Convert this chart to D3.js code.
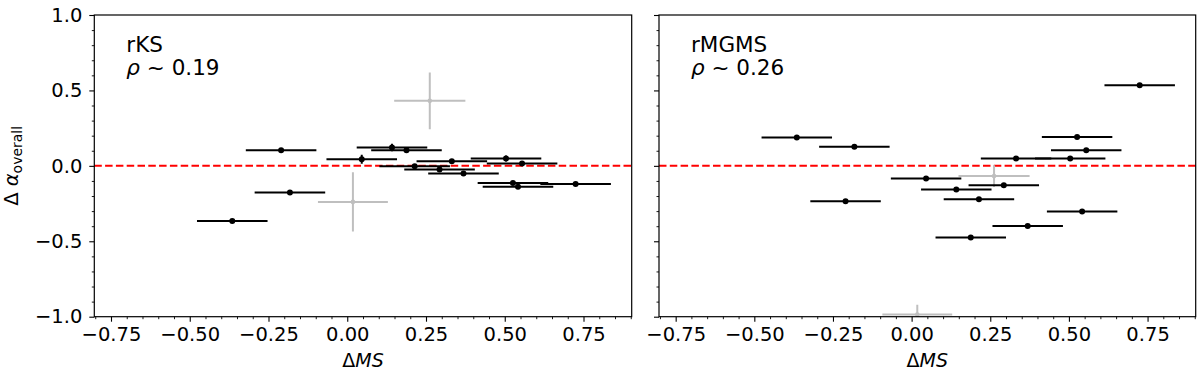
<!DOCTYPE html>
<html>
<head>
<meta charset="utf-8">
<script src="https://cdn.jsdelivr.net/npm/d3@7"></script>
<style>
  body { margin: 0; background: #fff; }
  svg { display: block; }
  text { font-family: "DejaVu Sans", sans-serif; }
</style>
</head>
<body>
<div id="chart"></div>
<script>
// delta MS for the black points (same in both panels)
const deltaMS = [-0.365, -0.21, -0.182, 0.046, 0.142, 0.188, 0.214, 0.293, 0.332, 0.369, 0.504, 0.555, 0.526, 0.542, 0.725];
const deltaMSErr = [0.112, 0.112, 0.112, 0.112, 0.112, 0.112, 0.112, 0.112, 0.112, 0.112, 0.112, 0.112, 0.112, 0.112, 0.112];
const alphaKS = [-0.365, 0.104, -0.176, 0.044, 0.122, 0.104, -0.002, -0.024, 0.031, -0.05, 0.049, 0.016, -0.113, -0.139, -0.121];
const alphaKSErr = [0.01, 0.01, 0.01, 0.03, 0.025, 0.01, 0.01, 0.01, 0.01, 0.01, 0.02, 0.01, 0.01, 0.01, 0.01];
const alphaMGMS = [0.188, -0.234, 0.126, -0.084, -0.157, -0.475, -0.221, -0.128, 0.049, -0.398, 0.049, 0.104, 0.192, -0.302, 0.535];
const alphaMGMSErr = [0.01, 0.01, 0.01, 0.01, 0.01, 0.01, 0.01, 0.01, 0.01, 0.01, 0.01, 0.01, 0.01, 0.01, 0.01];

// grey (excluded) points
const greyMS = [0.018, 0.262];
const greyMSErr = [0.111, 0.113];
const greyKS = [-0.239, 0.431];
const greyKSErr = [0.197, 0.188];
const greyMGMS = [-0.985, -0.068];
const greyMGMSErr = [0.065, 0.072];

const panelNames = ["rKS", "rMGMS"];
const panelRho = ["0.19", "0.26"];

const xTicks = [-0.75, -0.5, -0.25, 0, 0.25, 0.5, 0.75];
const yTicks = [-1, -0.5, 0, 0.5, 1];

const width = 1200, height = 373;
const svg = d3.select("#chart").append("svg")
  .attr("width", width).attr("height", height);

const plotTop = 15, plotBottom = 316.7;
const panels = [
  { x0: 94.3, x1: 631.7, y: alphaKS, yErr: alphaKSErr, gy: greyKS, gyErr: greyKSErr, labels: true },
  { x0: 659, x1: 1195.7, y: alphaMGMS, yErr: alphaMGMSErr, gy: greyMGMS, gyErr: greyMGMSErr, labels: false }
];

const yScale = d3.scaleLinear().domain([-1, 1]).range([plotBottom, plotTop]);
const fmtX = d3.format(".2f");
const fmtY = d3.format(".1f");

panels.forEach((p, k) => {
  const xScale = d3.scaleLinear().domain([-0.803, 0.903]).range([p.x0, p.x1]);
  const g = svg.append("g");

  g.append("clipPath").attr("id", "clip" + k)
    .append("rect")
    .attr("x", p.x0).attr("y", plotTop)
    .attr("width", p.x1 - p.x0).attr("height", plotBottom - plotTop);

  // x axis
  const xAxis = d3.axisBottom(xScale).tickValues(xTicks).tickFormat(d => fmtX(d))
    .tickSize(5).tickPadding(5.5).tickSizeOuter(0);
  const gx = g.append("g").attr("transform", `translate(0,${plotBottom})`).call(xAxis);
  gx.select(".domain").remove();
  gx.selectAll("text").style("font-size", "19.5px").attr("fill", "#000");
  gx.selectAll("line").attr("stroke-width", 1.1);

  const xMinor = d3.range(-0.8, 0.901, 0.05).filter(v => Math.abs(v * 4 - Math.round(v * 4)) > 1e-6);
  g.append("g").attr("transform", `translate(0,${plotBottom})`)
    .call(d3.axisBottom(xScale).tickValues(xMinor).tickFormat("").tickSize(2.5).tickSizeOuter(0))
    .call(s => s.select(".domain").remove())
    .selectAll("line").attr("stroke-width", 0.9);

  // y axis
  const yAxis = d3.axisLeft(yScale).tickValues(yTicks)
    .tickFormat(d => p.labels ? fmtY(d) : "")
    .tickSize(5).tickPadding(7).tickSizeOuter(0);
  const gy = g.append("g").attr("transform", `translate(${p.x0},0)`).call(yAxis);
  gy.select(".domain").remove();
  gy.selectAll("text").style("font-size", "19.5px").attr("fill", "#000");
  gy.selectAll("line").attr("stroke-width", 1.1);

  const yMinor = d3.range(-1, 1.001, 0.1).filter(v => Math.abs(v * 2 - Math.round(v * 2)) > 1e-6);
  g.append("g").attr("transform", `translate(${p.x0},0)`)
    .call(d3.axisLeft(yScale).tickValues(yMinor).tickFormat("").tickSize(2.5).tickSizeOuter(0))
    .call(s => s.select(".domain").remove())
    .selectAll("line").attr("stroke-width", 0.9);

  // zero line
  g.append("line")
    .attr("x1", p.x0).attr("x2", p.x1)
    .attr("y1", yScale(0)).attr("y2", yScale(0))
    .attr("stroke", "#ff0000").attr("stroke-width", 2)
    .attr("stroke-dasharray", "7.5,3.3");

  const plot = g.append("g").attr("clip-path", `url(#clip${k})`);

  // grey points
  greyMS.forEach((xv, i) => {
    const cx = xScale(xv), cy = yScale(p.gy[i]);
    plot.append("line")
      .attr("x1", xScale(xv - greyMSErr[i])).attr("x2", xScale(xv + greyMSErr[i]))
      .attr("y1", cy).attr("y2", cy)
      .attr("stroke", "#bfbfbf").attr("stroke-width", 2);
    plot.append("line")
      .attr("x1", cx).attr("x2", cx)
      .attr("y1", yScale(p.gy[i] - p.gyErr[i])).attr("y2", yScale(p.gy[i] + p.gyErr[i]))
      .attr("stroke", "#bfbfbf").attr("stroke-width", 2);
    plot.append("circle").attr("cx", cx).attr("cy", cy).attr("r", 2.3).attr("fill", "#bfbfbf");
  });

  // black points
  deltaMS.forEach((xv, i) => {
    const cx = xScale(xv), cy = yScale(p.y[i]);
    plot.append("line")
      .attr("x1", xScale(xv - deltaMSErr[i])).attr("x2", xScale(xv + deltaMSErr[i]))
      .attr("y1", cy).attr("y2", cy)
      .attr("stroke", "#000").attr("stroke-width", 2);
    plot.append("line")
      .attr("x1", cx).attr("x2", cx)
      .attr("y1", yScale(p.y[i] - p.yErr[i])).attr("y2", yScale(p.y[i] + p.yErr[i]))
      .attr("stroke", "#000").attr("stroke-width", 2);
    plot.append("circle").attr("cx", cx).attr("cy", cy).attr("r", 3).attr("fill", "#000");
  });

  // frame
  g.append("rect")
    .attr("x", p.x0).attr("y", plotTop)
    .attr("width", p.x1 - p.x0).attr("height", plotBottom - plotTop)
    .attr("fill", "none").attr("stroke", "#000").attr("stroke-width", 1.2);

  // annotation
  const ann = g.append("text").attr("x", p.x0 + 32).attr("y", 52)
    .style("font-size", "21.5px").attr("fill", "#000");
  ann.append("tspan").text(panelNames[k]);
  const t2 = g.append("text").attr("x", p.x0 + 32).attr("y", 75)
    .style("font-size", "21.5px").attr("fill", "#000");
  t2.append("tspan").style("font-style", "italic").text("ρ");
  t2.append("tspan").text(" ~ " + panelRho[k]);

  // x label
  const xl = g.append("text")
    .attr("x", (p.x0 + p.x1) / 2).attr("y", 367)
    .attr("text-anchor", "middle").style("font-size", "19px");
  xl.append("tspan").text("Δ");
  xl.append("tspan").style("font-style", "italic").text("MS");
});

// y label
const yl = svg.append("text")
  .attr("transform", `translate(18,${(plotTop + plotBottom) / 2}) rotate(-90)`)
  .attr("text-anchor", "middle").style("font-size", "19.5px");
yl.append("tspan").text("Δ ");
yl.append("tspan").style("font-style", "italic").text("α");
yl.append("tspan").attr("dy", 4).style("font-size", "14px").text("overall");
</script>
</body>
</html>
